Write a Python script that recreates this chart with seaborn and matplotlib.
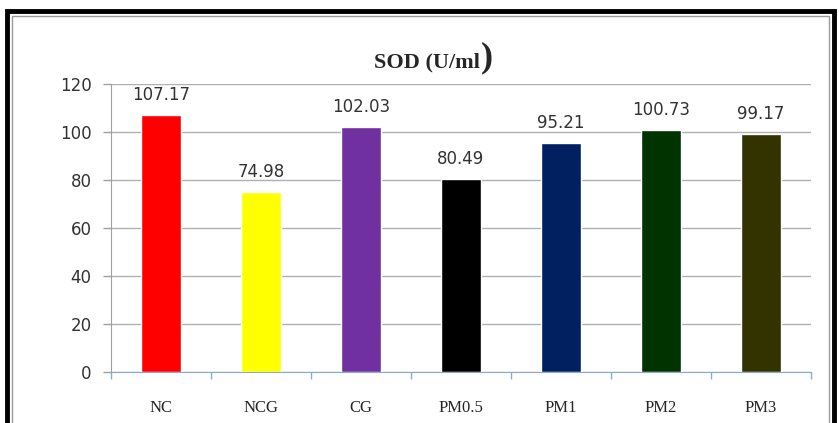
import matplotlib
matplotlib.use("Agg")
import matplotlib.pyplot as plt
import matplotlib.patches as patches
import seaborn as sns
import pandas as pd

groups = ["NC", "NCG", "CG", "PM0.5", "PM1", "PM2", "PM3"]
sod = [107.17, 74.98, 102.03, 80.49, 95.21, 100.73, 99.17]
bar_colors = ["#FF0000", "#FFFF00", "#7030A0", "#000000", "#002060", "#003300", "#333300"]
yticks = [0, 20, 40, 60, 80, 100, 120]

df = pd.DataFrame({"group": groups, "sod": sod})

sns.set_style("white")
W, H = 839, 423
fig = plt.figure(figsize=(W / 100, H / 100), dpi=100)
ax = fig.add_axes([111 / W, (H - 372) / H, 700 / W, 288 / H])

sns.barplot(data=df, x="group", y="sod", hue="group", palette=bar_colors,
            width=0.4, legend=False, ax=ax, saturation=1)

ax.set_ylim(0, 120)
ax.set_xlim(-0.5, 6.5)
ax.set_yticks(yticks)
ax.yaxis.grid(True, color="#b0b0b0", linewidth=1)
ax.set_axisbelow(True)
for s in ["top", "right"]:
    ax.spines[s].set_visible(False)
ax.spines["left"].set_color("#a0a0a0")
ax.spines["bottom"].set_color("#8aaad4")
ax.tick_params(axis="y", left=True, direction="out", length=6, width=1,
               color="#a0a0a0", labelsize=12, labelcolor="#333333", pad=8)
ax.set_xticks(range(len(groups)))
ax.set_xticklabels(groups, family="Liberation Serif", fontsize=12)
ax.tick_params(axis="x", which="major", bottom=True, length=0, pad=20)
ax.set_xticks([i - 0.5 for i in range(len(groups) + 1)], minor=True)
ax.tick_params(axis="x", which="minor", bottom=True, direction="out", length=5,
               width=1, color="#8aaad4")
ax.set_xlabel("")
ax.set_ylabel("")

for i, v in enumerate(sod):
    ax.annotate(f"{v:.2f}", (i, v), xytext=(0, 8), textcoords="offset points",
                ha="center", va="bottom", fontsize=12, color="#333333")

fig.text(480 / W, (H - 62) / H, "SOD (U/ml", ha="right", va="center",
         family="Liberation Serif", fontweight="bold", fontsize=16)
fig.text(481 / W, (H - 58) / H, ")", ha="left", va="center",
         family="Liberation Serif", fontweight="bold", fontsize=26)

# outer frame of the chart
fig.patches.append(patches.Rectangle((7 / W, -0.1), (834 - 7) / W, 1.1 - 11.5 / H,
                                     transform=fig.transFigure, fill=False,
                                     edgecolor="black", linewidth=3.5))
fig.patches.append(patches.Rectangle((12 / W, -0.1), (829 - 12) / W, 1.1 - 16 / H,
                                     transform=fig.transFigure, fill=False,
                                     edgecolor="#9a9a9a", linewidth=1))

fig.savefig("out.png", dpi=100)
